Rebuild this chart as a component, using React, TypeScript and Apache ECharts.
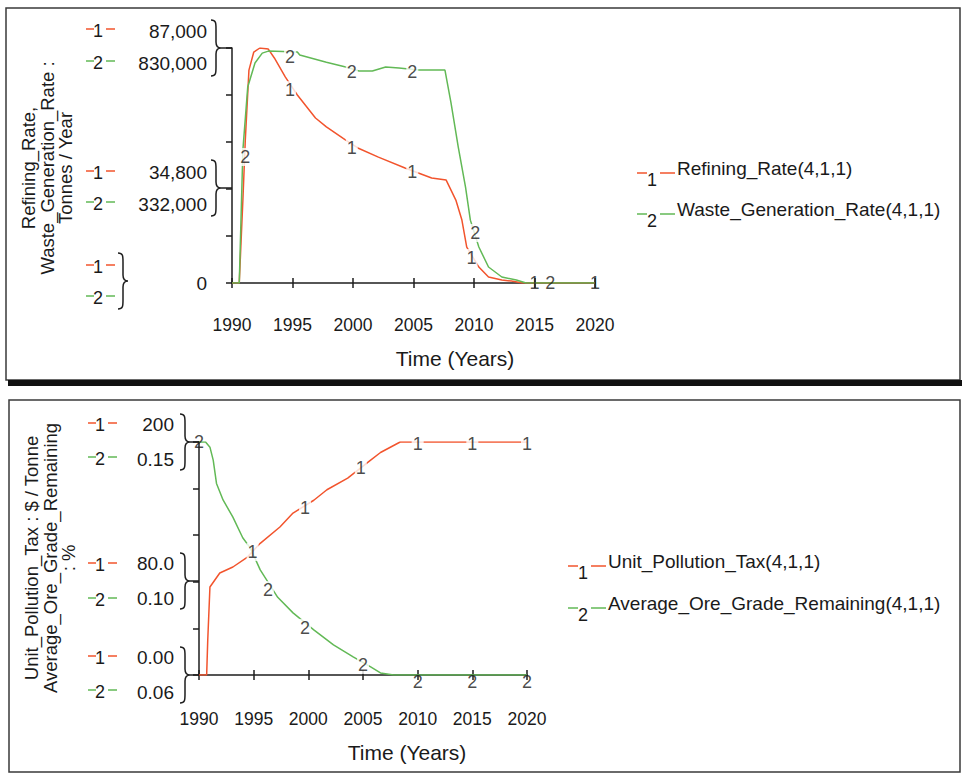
import React, { useEffect, useRef } from 'react';
import * as echarts from 'echarts';

// ---------- data ----------
const xTicks = [1990, 1995, 2000, 2005, 2010, 2015, 2020];

// top panel
const refiningRate: [number, number][] = [
  [1990, 0], [1990.6, 0], [1990.9, 30700], [1991.1, 53000], [1991.4, 78800], [1991.8, 85500],
  [1992.3, 87000], [1993.0, 86600], [1993.5, 83300], [1994.4, 76300], [1995.4, 69600],
  [1996.9, 61100], [1997.8, 57800], [1999.4, 52900], [2000.4, 50000], [2002.1, 46600],
  [2004.3, 42600], [2005.4, 40700], [2006.5, 38900], [2007.7, 38100], [2008.5, 30700],
  [2009.0, 23300], [2009.4, 13300], [2010.4, 5900], [2011.2, 2200], [2012.3, 1100],
  [2013.1, 700], [2014, 0], [2020, 0],
];
const wasteGenerationRate: [number, number][] = [
  [1990, 0], [1990.6, 0], [1990.9, 470000], [1991.3, 692000], [1991.9, 777000], [1992.5, 812000],
  [1993.0, 819000], [1995.4, 816000], [1995.6, 805000], [1997.8, 780000], [1999.4, 763000],
  [2000.5, 749000], [2001.6, 749000], [2002.7, 763000], [2003.8, 759000], [2005.4, 752000],
  [2007.6, 752000], [2008.1, 636000], [2008.7, 480000], [2009.3, 339000], [2009.7, 222000],
  [2010.4, 127000], [2011.2, 56500], [2012.3, 21200], [2013.5, 10600], [2014.3, 0], [2020, 0],
];
const refiningMarks: [number, number][] = [
  [1994.8, 71400], [1999.9, 50000], [2004.9, 41100], [2009.8, 9250], [2015, 0], [2020, 0],
];
const wasteMarks: [number, number][] = [
  [1991.1, 445000], [1994.8, 798000], [1999.9, 745000], [2004.9, 745000], [2010.1, 176600], [2016.3, 0],
];
const refiningScale = [0, 87000];
const refiningLabels = [34800, 87000];
const wasteScale = [0, 830000];
const wasteLabels = [332000, 830000];
const sharedZeroLabel = [0];

// bottom panel
const unitPollutionTax: [number, number][] = [
  [1990, 0], [1990.7, 0], [1990.8, 30], [1991.0, 75.5], [1991.9, 87.6], [1993.1, 92.7],
  [1994.4, 101], [1995.6, 113], [1997.4, 127], [1998.6, 139], [2000.5, 150], [2001.7, 159],
  [2003.6, 169], [2005.7, 184.5], [2006.6, 191], [2007.8, 197], [2008.4, 200], [2020, 200],
];
const averageOreGrade: [number, number][] = [
  [1990, 0.150], [1990.6, 0.150], [1991.0, 0.148], [1991.3, 0.143], [1991.6, 0.134],
  [1992.2, 0.1276], [1993.1, 0.121], [1994.0, 0.113], [1994.7, 0.109], [1995.6, 0.1006],
  [1997.2, 0.090], [1998.6, 0.084], [2000.5, 0.0774], [2002.3, 0.0716], [2004.1, 0.067],
  [2005.7, 0.0631], [2006.6, 0.0608], [2007.8, 0.060], [2020, 0.060],
];
const taxMarks: [number, number][] = [
  [1994.9, 105.6], [1999.7, 143], [2004.8, 177.7], [2010, 198], [2015, 198], [2020, 198],
];
const gradeMarks: [number, number][] = [
  [1990, 0.15], [1996.3, 0.0928], [1999.7, 0.0782], [2005.0, 0.0639], [2010, 0.0574], [2015, 0.0574], [2020, 0.0574],
];
const taxScale = [0, 200];
const taxLabels = [0, 80, 200];
const gradeScale = [0.06, 0.15];
const gradeLabels = [0.06, 0.096, 0.15];

// texts
const topLegend = ['Refining_Rate(4,1,1)', 'Waste_Generation_Rate(4,1,1)'];
const bottomLegend = ['Unit_Pollution_Tax(4,1,1)', 'Average_Ore_Grade_Remaining(4,1,1)'];
const topYTitle = ['Refining_Rate,', 'Waste_Generation_Rate :', 'Tonnes / Year'];
const bottomYTitle = ['Unit_Pollution_Tax : $ / Tonne', 'Average_Ore_Grade_Remaining', ': %'];
const xTitle = 'Time (Years)';

// ---------- styling ----------
const FONT = '"Liberation Sans", Arial, Helvetica, sans-serif';
const RED = '#f2542d';
const GREEN = '#62b956';
const AX = '#1e1e1e';
const TXT = '#1a1a1a';

const fmtThousands = (v: number) => v.toLocaleString('en-US');
const fmtSig3 = (v: number) => (v === 0 ? '0.00' : v >= 100 ? v.toFixed(0) : v >= 10 ? v.toFixed(1) : v.toFixed(2));
const fmt2 = (v: number) => v.toFixed(2);

echarts.graphic.registerShape(
  'brace',
  echarts.graphic.extendPath('M0,0 C5,0 5,3 5,9 L5,22 C5,26 7,28 10,28 C7,28 5,30 5,34 L5,47 C5,53 5,56 0,56', {})
);

function xAxes(gridIndex: number, margin: number) {
  const common = {
    gridIndex, type: 'value', position: 'bottom',
    min: xTicks[0], max: xTicks[xTicks.length - 1], interval: xTicks[1] - xTicks[0],
    splitLine: { show: false },
  };
  return [
    {
      ...common,
      axisLine: { show: true, onZero: false, lineStyle: { color: AX, width: 1.5 } },
      axisTick: { show: true, length: 5, lineStyle: { color: AX, width: 1.5 } },
      axisLabel: { margin, formatter: (v: number) => String(v), fontSize: 17.5, color: TXT, fontFamily: FONT },
    },
    {
      ...common,
      axisLine: { show: false },
      axisTick: { show: true, inside: true, length: 5, lineStyle: { color: AX, width: 1.5 } },
      axisLabel: { show: false },
    },
  ];
}

// shift: <0 moves labels up by |shift| px, >0 moves down
function labelAxis(gridIndex: number, scale: number[], values: number[], fmt: (v: number) => string, shift: number, main: boolean) {
  const align = shift < 0 ? 'bottom' : shift > 0 ? 'top' : 'middle';
  const lh = shift === 0 ? 20 : Math.abs(shift) * 2;
  return {
    gridIndex, type: 'value', position: 'left',
    min: scale[0], max: scale[1],
    ...(main ? { interval: (scale[1] - scale[0]) / 5 } : {}),
    splitLine: { show: false },
    axisLine: { show: main, onZero: false, lineStyle: { color: AX, width: 1.5 } },
    axisTick: { show: main, length: 6, lineStyle: { color: AX, width: 1.5 } },
    axisLabel: {
      customValues: values, formatter: fmt, margin: 25, fontSize: 19, color: TXT, fontFamily: FONT,
      verticalAlign: align, lineHeight: lh,
    },
  };
}

function lineSeries(data: [number, number][], color: string, xi: number, yi: number) {
  return {
    type: 'line', xAxisIndex: xi, yAxisIndex: yi, data, showSymbol: false, silent: true,
    lineStyle: { color, width: 1.5 }, itemStyle: { color }, z: 2, animation: false,
  };
}

function markSeries(marks: [number, number][], num: string, xi: number, yi: number, yMin: number, xMin: number) {
  return {
    type: 'scatter', xAxisIndex: xi, yAxisIndex: yi, symbolSize: 1, silent: true, clip: false, z: 5,
    itemStyle: { color: 'rgba(0,0,0,0)' },
    data: marks.map(([x, y]) => ({
      value: [x, y],
      label: y <= yMin || x <= xMin ? { backgroundColor: 'transparent' } : {},
    })),
    label: {
      show: true, position: 'inside', formatter: num, fontSize: 18, color: TXT, fontFamily: FONT,
      backgroundColor: '#ffffff', padding: [0, 1],
    },
  };
}

function dash(x1: number, x2: number, y: number, color: string) {
  return { type: 'line', silent: true, shape: { x1, y1: y, x2, y2: y }, style: { stroke: color, lineWidth: 1.5 } };
}
function txt(x: number, y: number, text: string, size: number, align = 'left', extra: any = {}) {
  return {
    type: 'text', x, y, silent: true, ...extra,
    style: { text, fill: TXT, fontSize: size, fontFamily: FONT, align, verticalAlign: 'middle', ...(extra.style || {}) },
  };
}
// left "-1-" markers
function sideMarker(x: number, y: number, num: string, color: string) {
  return [dash(x, x + 8, y - 2, color), txt(x + 12, y, num, 18, 'center'), dash(x + 20, x + 29, y - 2, color)];
}
// right legend rows
function legendRow(x: number, y: number, num: string, color: string, label: string) {
  return [
    dash(x, x + 10, y + 5, color), txt(x + 15, y + 12, num, 18, 'center'), dash(x + 23, x + 38, y + 5, color),
    txt(x + 40, y, label, 19, 'left'),
  ];
}
function brace(x: number, tipY: number, connectTo?: number) {
  const els: any[] = [{ type: 'brace', x, y: tipY - 28, silent: true, style: { stroke: AX, fill: null, lineWidth: 1.5 } }];
  if (connectTo !== undefined) {
    els.push({ type: 'line', silent: true, shape: { x1: x + 10, y1: tipY, x2: connectTo, y2: tipY }, style: { stroke: AX, lineWidth: 1.5 } });
  }
  return els;
}

export default function App() {
  const ref = useRef<HTMLDivElement>(null);
  useEffect(() => {
    if (!ref.current) return;
    const chart = echarts.init(ref.current, undefined, { renderer: 'svg' });

    const graphic: any[] = [
      // frames
      { type: 'rect', silent: true, z: -10, shape: { x: 6, y: 8, width: 954, height: 372 }, style: { fill: '#fff', stroke: '#3a3a3a', lineWidth: 1.5 } },
      { type: 'rect', silent: true, z: -10, shape: { x: 8, y: 380, width: 954, height: 6 }, style: { fill: '#111' } },
      { type: 'rect', silent: true, z: -10, shape: { x: 9, y: 400, width: 951, height: 372 }, style: { fill: '#fff', stroke: '#3a3a3a', lineWidth: 1.5 } },
      // y titles
      txt(47, 168, topYTitle.join('\n'), 18.5, 'center', { rotation: Math.PI / 2, style: { lineHeight: 18.5 } }),
      txt(50, 558, bottomYTitle.join('\n'), 18.5, 'center', { rotation: Math.PI / 2, style: { lineHeight: 18.5 } }),
      // x titles
      txt(455, 358, xTitle, 21, 'center'),
      txt(407, 752, xTitle, 21, 'center'),
      // braces
      ...brace(211, 48, 232), ...brace(211, 188, 232), ...brace(118, 281),
      ...brace(180, 442, 199), ...brace(180, 581, 199), ...brace(180, 675, 199),
      // side markers
      ...sideMarker(86, 31, '1', RED), ...sideMarker(86, 63, '2', GREEN),
      ...sideMarker(86, 173, '1', RED), ...sideMarker(86, 204, '2', GREEN),
      ...sideMarker(86, 267, '1', RED), ...sideMarker(86, 298, '2', GREEN),
      ...sideMarker(88, 425, '1', RED), ...sideMarker(88, 459, '2', GREEN),
      ...sideMarker(88, 565, '1', RED), ...sideMarker(88, 600, '2', GREEN),
      ...sideMarker(88, 658, '1', RED), ...sideMarker(88, 692, '2', GREEN),
      // legends
      ...legendRow(637, 168, '1', RED, topLegend[0]),
      ...legendRow(637, 209, '2', GREEN, topLegend[1]),
      ...legendRow(568, 561, '1', RED, bottomLegend[0]),
      ...legendRow(568, 603, '2', GREEN, bottomLegend[1]),
    ];

    chart.setOption({
      animation: false,
      backgroundColor: '#ffffff',
      grid: [
        { left: 232, top: 48, width: 363, height: 235 },
        { left: 199, top: 442, width: 328, height: 233 },
      ],
      xAxis: [...xAxes(0, 33), ...xAxes(1, 35)],
      yAxis: [
        labelAxis(0, refiningScale, refiningLabels, fmtThousands, -17, true),
        labelAxis(0, wasteScale, wasteLabels, fmtThousands, 15, false),
        labelAxis(0, refiningScale, sharedZeroLabel, fmtThousands, 0, false),
        labelAxis(1, taxScale, taxLabels, fmtSig3, -18, true),
        labelAxis(1, gradeScale, gradeLabels, fmt2, 17, false),
      ],
      series: [
        lineSeries(refiningRate, RED, 0, 0),
        lineSeries(wasteGenerationRate, GREEN, 0, 1),
        markSeries(refiningMarks, '1', 0, 0, refiningScale[0], xTicks[0]),
        markSeries(wasteMarks, '2', 0, 1, wasteScale[0], xTicks[0]),
        lineSeries(unitPollutionTax, RED, 2, 3),
        lineSeries(averageOreGrade, GREEN, 2, 4),
        markSeries(taxMarks, '1', 2, 3, taxScale[0], xTicks[0]),
        markSeries(gradeMarks, '2', 2, 4, gradeScale[0], xTicks[0]),
      ],
      graphic,
    });
    return () => chart.dispose();
  }, []);
  return <div ref={ref} style={{ position: 'absolute', left: 0, top: 0, width: 962, height: 774 }} />;
}
